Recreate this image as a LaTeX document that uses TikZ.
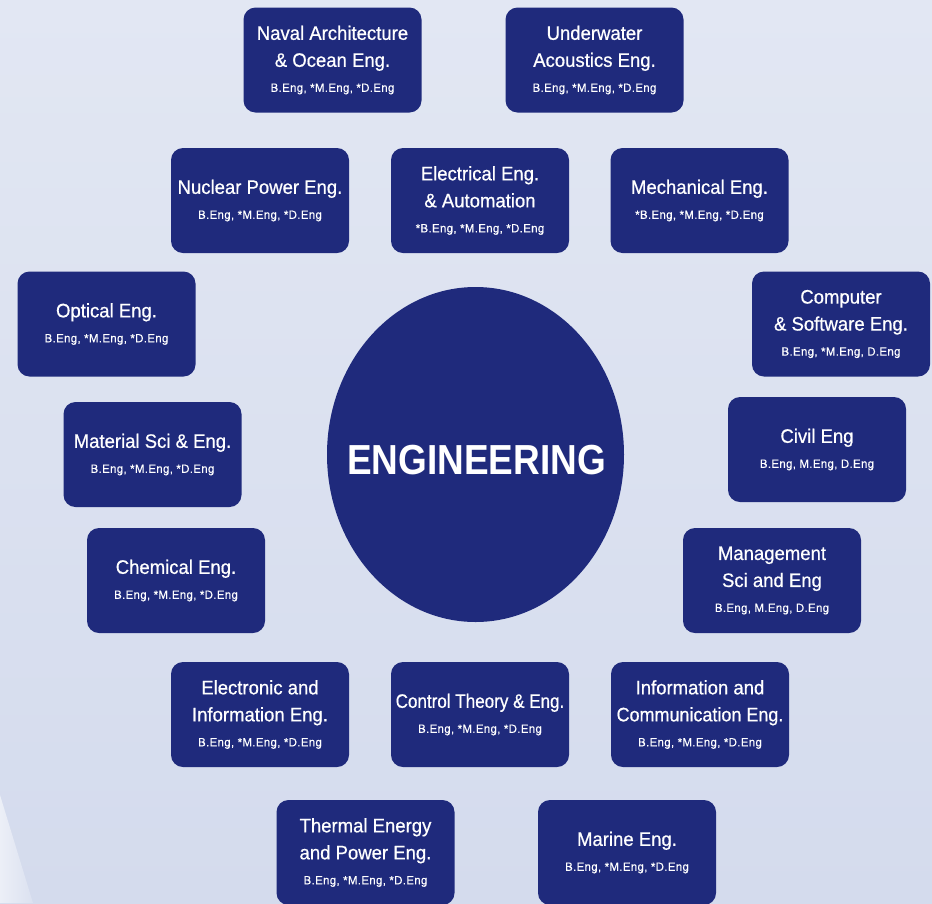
\documentclass[tikz,border=0pt]{standalone}
\usepackage{fontspec}
\usepackage{graphicx}
\usetikzlibrary{shapes.geometric}
\setmainfont{Liberation Sans}
\newfontfamily\tfont[FakeStretch=0.95,FakeBold=0.6]{Liberation Sans}
\newfontfamily\sfontsub[FakeStretch=0.95,FakeBold=0.4,LetterSpace=3]{Liberation Sans}
\newfontfamily\efont[FakeStretch=0.88]{Liberation Sans}
\definecolor{navy}{RGB}{31,42,124}
\definecolor{bgtop}{RGB}{226,231,243}
\definecolor{bgbot}{RGB}{212,219,237}
\definecolor{wedge}{RGB}{236,239,247}
\newcommand\dg[1]{\\[-2pt]{\sfontsub\fontsize{12}{14}\selectfont #1}}
\newcommand\nar[2]{\scalebox{#1}[1]{#2}}
\tikzset{
  ebox/.style={fill=navy, rounded corners=12pt, minimum width=178pt,
    minimum height=105pt, inner sep=0pt, text=white, align=center,
    font=\tfont\fontsize{19.5}{27}\selectfont},
  core/.style={ellipse, fill=navy, minimum width=297pt, minimum height=335pt, inner sep=0pt},
  coretext/.style={text=white, inner sep=0pt, font=\efont\bfseries\fontsize{42}{48}\selectfont}
}
\begin{document}
\begin{tikzpicture}[x=1pt,y=-1pt]
\useasboundingbox (0,0) rectangle (932,903);
\shade[top color=bgtop, bottom color=bgbot] (0,0) rectangle (932,903);
\shade[left color=wedge, right color=bgbot!70!wedge] (0,795) -- (33,903) -- (0,903) -- cycle;

\node[core] (eng) at (475.5,454.5) {};
\node[coretext] (engT) at (476.5,460) {ENGINEERING};

\node[ebox] (naval) at (332.5,60) {Naval Architecture\\\& Ocean Eng.\dg{B.Eng, *M.Eng, *D.Eng}};
\node[ebox] (underwater) at (594.5,60) {Underwater\\Acoustics Eng.\dg{B.Eng, *M.Eng, *D.Eng}};
\node[ebox] (nuclear) at (260,200.5) {Nuclear Power Eng.\dg{B.Eng, *M.Eng, *D.Eng}};
\node[ebox] (electrical) at (480,200.5) {Electrical Eng.\\\& Automation\dg{*B.Eng, *M.Eng, *D.Eng}};
\node[ebox] (mechanical) at (699.5,200.5) {Mechanical Eng.\dg{*B.Eng, *M.Eng, *D.Eng}};
\node[ebox] (optical) at (106.5,324) {Optical Eng.\dg{B.Eng, *M.Eng, *D.Eng}};
\node[ebox] (computer) at (841,324) {Computer\\\& Software Eng.\dg{B.Eng, *M.Eng, D.Eng}};
\node[ebox] (material) at (152.5,454.5) {Material Sci \& Eng.\dg{B.Eng, *M.Eng, *D.Eng}};
\node[ebox] (civil) at (817,449.5) {Civil Eng\dg{B.Eng, M.Eng, D.Eng}};
\node[ebox] (chemical) at (176,580.5) {Chemical Eng.\dg{B.Eng, *M.Eng, *D.Eng}};
\node[ebox] (management) at (772,580.5) {Management\\Sci and Eng\dg{B.Eng, M.Eng, D.Eng}};
\node[ebox] (electronic) at (260,714.5) {Electronic and\\Information Eng.\dg{B.Eng, *M.Eng, *D.Eng}};
\node[ebox] (control) at (480,714.5) {\nar{0.92}{Control Theory \& Eng.}\dg{B.Eng, *M.Eng, *D.Eng}};
\node[ebox] (information) at (700,714.5) {Information and\\\nar{0.97}{Communication Eng.}\dg{B.Eng, *M.Eng, *D.Eng}};
\node[ebox] (thermal) at (365.5,852.5) {Thermal Energy\\and Power Eng.\dg{B.Eng, *M.Eng, *D.Eng}};
\node[ebox] (marine) at (627,852.5) {Marine Eng.\dg{B.Eng, *M.Eng, *D.Eng}};
\end{tikzpicture}
\end{document}
